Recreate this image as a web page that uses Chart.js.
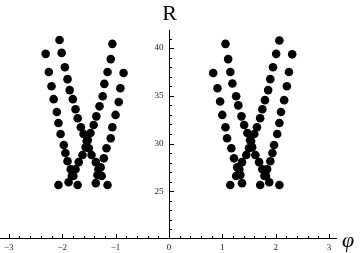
<!DOCTYPE html>
<html><head><meta charset="utf-8">
<script src="https://cdn.jsdelivr.net/npm/chart.js@4/dist/chart.umd.min.js"></script>
<style>html,body{margin:0;padding:0;background:#fff}#wrap{width:360px;height:253px}</style>
</head><body><div id="wrap"><canvas id="c" width="360" height="253"></canvas></div>
<script>
// ---- data (phi, R) ----
// left cluster
const leftA_phi = [-2.31,-2.25,-2.20,-2.16,-2.10,-2.07,-2.03,-1.97,-1.94,-1.90,-1.84,-1.79];
const leftA_R   = [39.4,37.5,36.0,34.65,33.3,32.15,31.0,29.85,29.0,28.15,27.3,26.6];
const leftB_phi = [-2.05,-2.01,-1.95,-1.90,-1.86,-1.80,-1.75,-1.71,-1.65,-1.60,-1.54,-1.50,-1.45,-1.37,-1.32,-1.26];
const leftB_R   = [40.85,39.5,38.0,36.75,35.6,34.65,33.6,32.65,31.7,31.0,30.25,29.5,28.8,28.05,27.3,26.6];
const leftC_phi = [-1.06,-1.09,-1.15,-1.21,-1.24,-1.30,-1.36,-1.41,-1.47,-1.52,-1.56,-1.62,-1.69,-1.75,-1.82,-1.88];
const leftC_R   = [40.45,38.85,37.5,36.25,34.95,33.9,32.85,31.95,31.1,30.35,29.6,28.8,28.05,27.3,26.6,25.95];
const leftD_phi = [-0.85,-0.91,-0.94,-1.00,-1.06,-1.09,-1.17,-1.22,-1.28,-1.34,-1.37];
const leftD_R   = [37.4,35.8,34.35,33.0,31.7,30.55,29.5,28.45,27.5,26.7,25.85];
const leftBottom_phi = [-2.07,-1.71,-1.15];
const leftBottom_R   = [25.65,25.65,25.65];
// right cluster
const rightA_phi = [2.31,2.25,2.21,2.16,2.10,2.07,2.03,1.97,1.94,1.90,1.84,1.79];
const rightA_R   = [39.35,37.5,36.0,34.55,33.3,32.15,31.0,29.85,29.0,28.15,27.3,26.6];
const rightB_phi = [2.07,2.01,1.95,1.90,1.86,1.80,1.75,1.71,1.65,1.60,1.54,1.50,1.45,1.37,1.32,1.26];
const rightB_R   = [40.8,39.4,38.0,36.75,35.6,34.55,33.6,32.65,31.7,31.0,30.25,29.5,28.8,28.05,27.3,26.6];
const rightC_phi = [1.06,1.11,1.15,1.19,1.26,1.30,1.36,1.41,1.47,1.52,1.56,1.62,1.69,1.75,1.82,1.88];
const rightC_R   = [40.45,38.85,37.5,36.3,34.95,34.0,32.85,31.95,31.1,30.35,29.6,28.8,28.05,27.3,26.6,25.95];
const rightD_phi = [0.83,0.91,0.96,1.00,1.06,1.09,1.17,1.22,1.28,1.34,1.37];
const rightD_R   = [37.4,35.8,34.4,33.0,31.7,30.55,29.5,28.45,27.5,26.7,25.85];
const rightBottom_phi = [2.07,1.71,1.15];
const rightBottom_R   = [25.65,25.65,25.65];

const xTickValues = [-3,-2,-1,0,1,2,3];
const xTickLabels = ['\u22123','\u22122','\u22121','0','1','2','3'];
const yTickValues = [25,30,35,40];
const yTickLabels = ['25','30','35','40'];
const xAxisLabel = '\u03C6';
const yAxisLabel = 'R';

const seriesList = [
  [leftA_phi,leftA_R],[leftB_phi,leftB_R],[leftC_phi,leftC_R],[leftD_phi,leftD_R],[leftBottom_phi,leftBottom_R],
  [rightA_phi,rightA_R],[rightB_phi,rightB_R],[rightC_phi,rightC_R],[rightD_phi,rightD_R],[rightBottom_phi,rightBottom_R]
];
const datasets = seriesList.map(([xs,ys]) => ({
  data: xs.map((v,i)=>({x:v,y:ys[i]})),
  backgroundColor:'#000', borderColor:'#000', borderWidth:0,
  pointRadius:4.3, pointHoverRadius:4.3, showLine:false
}));

const axisDeco = {
  id:'axisDeco',
  afterDraw(chart){
    const {ctx, chartArea:ca, scales:{x,y}} = chart;
    const x0 = Math.round(x.getPixelForValue(0)) + 0.5;
    const yb = Math.round(ca.bottom) + 0.5;
    ctx.save();
    ctx.strokeStyle = '#000'; ctx.lineWidth = 1;
    ctx.beginPath();
    ctx.moveTo(0, yb); ctx.lineTo(ca.right, yb);
    ctx.moveTo(x0, ca.top); ctx.lineTo(x0, yb);
    // x ticks: major at integers, minor every 0.2
    for (let k = -15; k <= 15; k++) {
      const v = k/5;
      const px = Math.round(x.getPixelForValue(v)) + 0.5;
      const len = (k % 5 === 0) ? 4.5 : 2.5;
      ctx.moveTo(px, yb); ctx.lineTo(px, yb - len);
    }
    // y ticks: major every 5, minor every 1
    for (let v = 21; v <= 41; v++) {
      const py = Math.round(y.getPixelForValue(v)) + 0.5;
      const len = (v % 5 === 0) ? 4.5 : 2.5;
      ctx.moveTo(x0, py); ctx.lineTo(x0 + len, py);
    }
    ctx.stroke();
    // y tick labels
    ctx.fillStyle = '#222';
    ctx.font = '9px "Liberation Serif", "Times New Roman", serif';
    ctx.textAlign = 'right'; ctx.textBaseline = 'middle';
    yTickValues.forEach((v,i)=>{ ctx.fillText(yTickLabels[i], x0 - 6, y.getPixelForValue(v)); });
    ctx.fillStyle = '#000';
    ctx.font = '22px "Liberation Serif", "Times New Roman", serif';
    ctx.textAlign = 'center'; ctx.textBaseline = 'alphabetic';
    ctx.fillText(yAxisLabel, x0, 20);
    ctx.font = 'italic 22px "Liberation Serif", "Times New Roman", serif';
    ctx.textAlign = 'left';
    ctx.fillText(xAxisLabel, 342, 247);
    ctx.restore();
  }
};

new Chart(document.getElementById('c'), {
  type:'scatter',
  data:{datasets},
  options:{
    responsive:false, animation:false, events:[],
    layout:{padding:{top:30,right:23,left:0,bottom:0}},
    plugins:{legend:{display:false}, tooltip:{enabled:false}},
    scales:{
      x:{
        type:'linear', min:-3.056, max:3.15, position:'bottom',
        grid:{display:false, drawTicks:false}, border:{display:false},
        afterBuildTicks(s){ s.ticks = xTickValues.map(v=>({value:v})); },
        afterFit(s){ s.height = 15; },
        ticks:{padding:4, maxRotation:0, autoSkip:false,
          color:'#222', font:{family:'"Liberation Serif", serif', size:9},
          callback(v){ const i = xTickValues.indexOf(v); return i>=0 ? xTickLabels[i] : ''; }}
      },
      y:{
        type:'linear', min:20.1, max:41.9, position:{x:0},
        grid:{display:false, drawTicks:false}, border:{display:false},
        afterBuildTicks(s){ s.ticks = yTickValues.map(v=>({value:v})); },
        afterFit(s){ s.width = 0; },
        ticks:{display:false}
      }
    }
  },
  plugins:[axisDeco]
});
</script></body></html>
